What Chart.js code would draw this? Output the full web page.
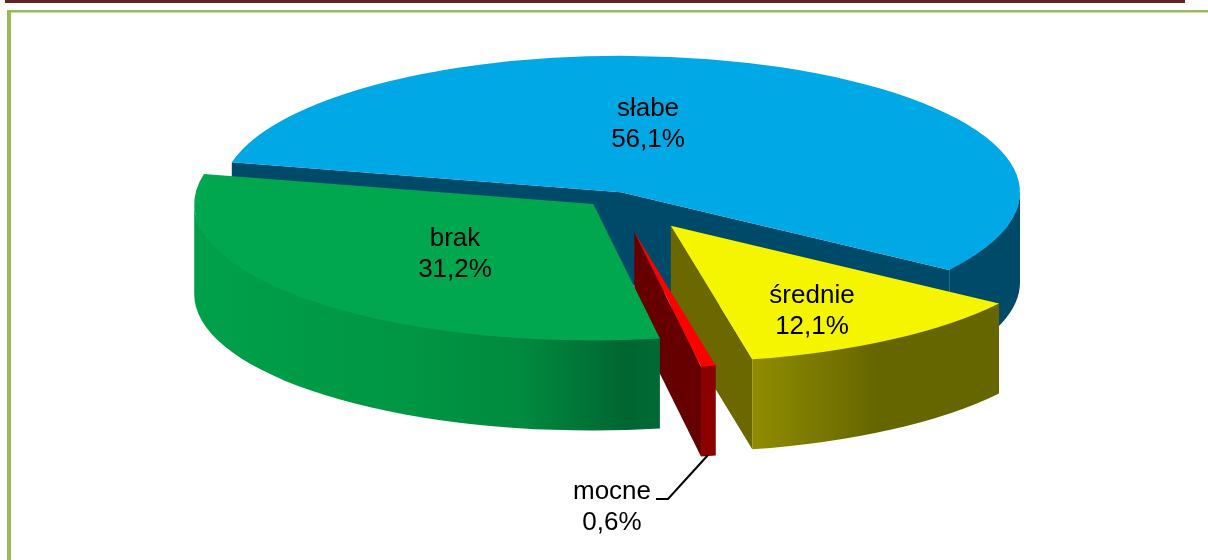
<!DOCTYPE html>
<html lang="pl"><head><meta charset="utf-8">
<style>
html,body{margin:0;padding:0;background:#fff;width:1208px;height:560px;overflow:hidden}
#wrap{position:relative;width:1208px;height:560px}
#bar{position:absolute;left:5px;top:0;width:1180px;height:3px;background:#632423}
#frameT{position:absolute;left:7px;top:10px;right:0;height:3px;background:linear-gradient(#9BBB59 2px,#C8D9A4 2px)}
#frameL{position:absolute;left:7px;top:10px;width:4px;bottom:0;background:#9BBB59}
canvas{position:absolute;left:0;top:0}
</style></head><body>
<div id="wrap"><div id="bar"></div><div id="frameT"></div><div id="frameL"></div>
<canvas id="c" width="1208" height="560"></canvas></div>
<script src="https://cdn.jsdelivr.net/npm/chart.js@4/dist/chart.umd.js"></script>
<script>
const categories = ['słabe','średnie','mocne','brak'];
const shares = [56.1,12.1,0.6,31.2];
const percentLabels = ['56,1%','12,1%','0,6%','31,2%'];

const topColors = ['#00A8E6','#F5F500','#FF0000','#00A74E'];
const cutColors = ['#004A69','#6B6800','#660000','#00642F'];
const wallStops = [
  [[0,'#004A69'],[1,'#004A69']],
  [[0,'#908D00'],[0.5,'#666600'],[1,'#666600']],
  [[0,'#8B0000'],[1,'#8B0000']],
  [[0,'#00A04A'],[0.45,'#009643'],[0.7,'#008A3F'],[0.925,'#006631'],[1,'#006A34']]
];
const explode = [15,101,104,30];
const paintOrder = [0,1,2,3];
const squash = 0.342, depth = 90;
const labelSpots = [[648,109],[812,296],[612,492],[455,239]];

const pie3d = {
  id:'pie3d',
  beforeDatasetsDraw(chart){
    const ctx = chart.ctx, arcs = chart.getDatasetMeta(0).data;
    const cx = arcs[0].x, cy = arcs[0].y;
    paintOrder.forEach(i=>{
      const a = arcs[i], s = a.startAngle, e = a.endAngle, r = a.outerRadius, mid=(s+e)/2;
      const dx = Math.cos(mid)*explode[i], dy = Math.sin(mid)*explode[i]*squash;
      const ax = cx+dx, ay = cy+dy;
      const px = t => ax+Math.cos(t)*r, py = t => ay+Math.sin(t)*r*squash;
      ctx.save();
      [[s,-Math.cos(s)],[e,Math.cos(e)]].forEach(([t,v])=>{
        if(v>0){
          ctx.fillStyle=cutColors[i];
          ctx.beginPath();ctx.moveTo(ax,ay);ctx.lineTo(px(t),py(t));ctx.lineTo(px(t),py(t)+depth);ctx.lineTo(ax,ay+depth);ctx.closePath();ctx.fill();
        }
      });
      const TAU=Math.PI*2;
      let k0=Math.floor(s/TAU);
      for(let k=k0;k<=k0+1;k++){
        const a0=Math.max(s,k*TAU), a1=Math.min(e,k*TAU+Math.PI);
        if(a1>a0){
          const g=ctx.createLinearGradient(px(a1),0,px(a0),0);
          wallStops[i].forEach(([o,c])=>g.addColorStop(o,c));
          ctx.fillStyle=g;
          ctx.beginPath();
          ctx.ellipse(ax,ay-1,r,r*squash,0,a0,a1);
          ctx.lineTo(px(a1),py(a1)+depth);
          ctx.ellipse(ax,ay+depth,r,r*squash,0,a1,a0,true);
          ctx.closePath();ctx.fill();
        }
      }
      ctx.translate(dx,cy*(1-squash)+dy);
      ctx.scale(1,squash);
      a.draw(ctx);
      ctx.restore();
    });
    return false;
  },
  afterDraw(chart){
    const ctx=chart.ctx;
    ctx.save();
    ctx.strokeStyle='#000';ctx.lineWidth=2;
    ctx.beginPath();ctx.moveTo(708,455);ctx.lineTo(668,499);ctx.lineTo(656,499);ctx.stroke();
    ctx.fillStyle='#000';ctx.font='26px "Liberation Sans"';ctx.textAlign='center';ctx.textBaseline='middle';
    categories.forEach((n,i)=>{
      const [x,y]=labelSpots[i];
      ctx.fillText(n,x,y);
      ctx.fillText(percentLabels[i],x,y+31);
    });
    ctx.restore();
  }
};

new Chart(document.getElementById('c'),{
  type:'pie',
  data:{labels:categories,datasets:[{data:shares,backgroundColor:topColors,borderWidth:0,clip:false}]},
  options:{
    responsive:false,animation:false,
    rotation:282.7,radius:399,
    layout:{padding:{left:22,bottom:166}},
    plugins:{legend:{display:false},tooltip:{enabled:false}}
  },
  plugins:[pie3d]
});
</script>
</body></html>
